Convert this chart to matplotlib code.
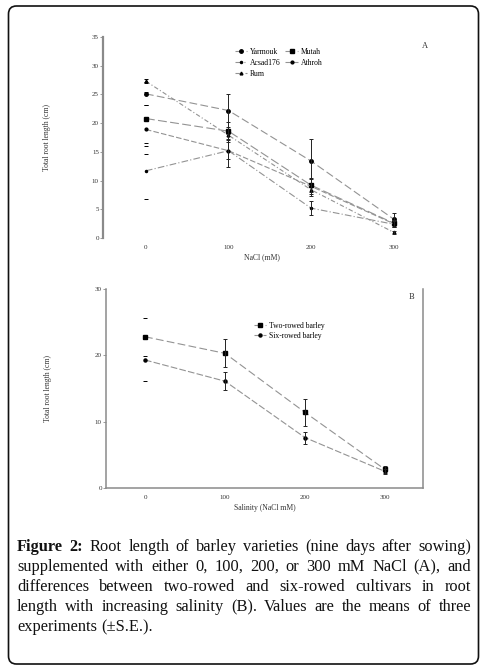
import matplotlib
matplotlib.use('Agg')
import matplotlib.pyplot as plt
from matplotlib.patches import FancyBboxPatch
from matplotlib.transforms import IdentityTransform

plt.rcParams['font.family'] = ['Liberation Serif', 'DejaVu Serif']

W, H = 487, 672


def fx(px):
    return px / W


def fy(py):
    return 1 - py / H


# --- Datos panel A: longitud de raíz por cultivar ---
nacl = [0, 100, 200, 300]
cultivares = ['Yarmouk', 'Acsad176', 'Rum', 'Mutah', 'Athroh']
yarmouk = [25.1, 22.2, 13.4, 3.3]
yarmouk_se = [2.0, 2.9, 3.8, 1.1]
acsad = [11.7, 15.2, 5.2, 2.4]
acsad_se = [4.9, 2.9, 1.2, 0.4]
rum = [27.3, 17.9, 8.4, 1.0]
rum_se = [0.3, 0.6, 1.0, 0.3]
mutah = [20.8, 18.6, 9.2, 2.6]
mutah_se = [4.7, 1.6, 1.2, 0.5]
athroh = [18.9, 15.2, 9.0, 2.5]
athroh_se = [4.2, 1.5, 1.3, 0.5]

# --- Datos panel B: dos hileras vs seis hileras ---
salinidad = [0, 100, 200, 300]
grupos = ['Two-rowed barley', 'Six-rowed barley']
dos_hileras = [22.8, 20.3, 11.4, 2.8]
dos_se = [2.9, 2.1, 2.0, 0.5]
seis_hileras = [19.3, 16.1, 7.6, 2.5]
seis_se = [3.2, 1.4, 0.9, 0.4]

caption = [
    'Figure 2: Root length of barley varieties (nine days after sowing)',
    'supplemented with either 0, 100, 200, or 300 mM NaCl (A), and',
    'differences between two-rowed and six-rowed cultivars in root',
    'length with increasing salinity (B). Values are the means of three',
    'experiments (±S.E.).',
]


def serie(ax, x, y, se, marker, ms, dashes, label):
    ax.plot(x, y, color='#939393', lw=0.8, dashes=dashes, marker=marker, ms=ms,
            mfc='k', mec='k', label=label)
    # en x=0 solo se ven las tapas
    ax.errorbar(x[:1], y[:1], yerr=se[:1], fmt='none', ecolor='k', elinewidth=0,
                capsize=1.6, capthick=0.7)
    ax.errorbar(x[1:], y[1:], yerr=se[1:], fmt='none', ecolor='#222222', elinewidth=0.7,
                capsize=1.6, capthick=0.7)


fig = plt.figure(figsize=(W / 100, H / 100), dpi=100)

# marco redondeado
marco = FancyBboxPatch((8.5, H - 664), 470, 658, boxstyle='round,pad=0,rounding_size=8',
                       transform=IdentityTransform(), fill=False, ec='#111111', lw=1.2)
fig.patches.append(marco)

# --- Panel A ---
axA = fig.add_axes([fx(103), fy(238), (420 - 103) / W, (238 - 37) / H])
serie(axA, nacl, yarmouk, yarmouk_se, 'o', 2.5, (7, 3), cultivares[0])
serie(axA, nacl, acsad, acsad_se, '.', 3, (6, 2, 1, 2), cultivares[1])
serie(axA, nacl, rum, rum_se, '^', 2.0, (4, 2, 1, 2), cultivares[2])
serie(axA, nacl, mutah, mutah_se, 's', 3.5, (8, 3), cultivares[3])
serie(axA, nacl, athroh, athroh_se, 'o', 2, (5, 2), cultivares[4])
axA.set_xlim(-52, 332)
axA.set_ylim(0, 35)
for s in ['top', 'right', 'bottom']:
    axA.spines[s].set_visible(False)
axA.spines['left'].set_color('#8a8a8a')
axA.spines['left'].set_linewidth(1.6)
axA.set_yticks(range(0, 36, 5))
axA.set_xticks(nacl)
axA.tick_params(axis='y', length=2, width=0.6, color='#8a8a8a', labelsize=5, labelcolor='#333333', pad=1)
axA.tick_params(axis='x', length=0, labelsize=5, labelcolor='#333333', pad=5)
axA.set_xlabel('NaCl (mM)', fontsize=5.5, color='#333333', labelpad=2)
axA.set_ylabel('Total root length (cm)', fontsize=5.5, color='#333333')
axA.yaxis.set_label_coords(-0.165, 0.5)
axA.legend(loc='upper left', bbox_to_anchor=(fx(231), fy(44)), bbox_transform=fig.transFigure,
           ncol=2, frameon=False, fontsize=5.5, handlelength=1.6, handletextpad=0.4,
           columnspacing=0.6, labelspacing=0.4, borderpad=0)
fig.text(fx(425), fy(46), 'A', fontsize=6, ha='center', va='center', color='#333333')

# --- Panel B ---
axB = fig.add_axes([fx(106), fy(488), (423 - 106) / W, (488 - 289) / H])
serie(axB, salinidad, dos_hileras, dos_se, 's', 3.2, (7, 3), grupos[0])
serie(axB, salinidad, seis_hileras, seis_se, 'o', 2.2, (6, 2), grupos[1])
axB.set_xlim(-48.75, 347.5)
axB.set_ylim(0, 30)
axB.spines['top'].set_visible(False)
for s in ['left', 'bottom', 'right']:
    axB.spines[s].set_color('#8a8a8a')
    axB.spines[s].set_linewidth(1.1)
axB.set_yticks([0, 10, 20, 30])
axB.set_xticks(salinidad)
axB.tick_params(axis='y', length=2, width=0.6, color='#8a8a8a', labelsize=5, labelcolor='#333333', pad=1)
axB.tick_params(axis='x', length=0, labelsize=5, labelcolor='#333333', pad=5)
axB.set_xlabel('Salinity (NaCl mM)', fontsize=5.5, color='#333333', labelpad=3)
axB.set_ylabel('Total root length (cm)', fontsize=5.5, color='#333333')
axB.yaxis.set_label_coords(-0.17, 0.5)
axB.legend(loc='upper left', bbox_to_anchor=(fx(250), fy(318)), bbox_transform=fig.transFigure,
           frameon=False, fontsize=5.5, handlelength=1.6, handletextpad=0.4,
           labelspacing=0.25, borderpad=0)
fig.text(fx(412), fy(297), 'B', fontsize=6, ha='center', va='center', color='#333333')

# --- Pie de figura justificado ---
renderer = fig.canvas.get_renderer()
x_izq, x_der = 17, 471
for i, linea in enumerate(caption):
    palabras = linea.split()
    y = fy(551 + 20 * i)
    objs = []
    for j, p in enumerate(palabras):
        peso = 'bold' if (i == 0 and j < 2) else 'normal'
        objs.append(fig.text(0, y, p, fontsize=11.8, fontweight=peso, va='baseline', color='#111111'))
    anchos = [t.get_window_extent(renderer).width for t in objs]
    if i < len(caption) - 1:
        hueco = (x_der - x_izq - sum(anchos)) / (len(palabras) - 1)
    else:
        hueco = 4
    x = x_izq
    for t, a in zip(objs, anchos):
        t.set_x(x / W)
        x += a + hueco

fig.savefig('out.png', dpi=100)
